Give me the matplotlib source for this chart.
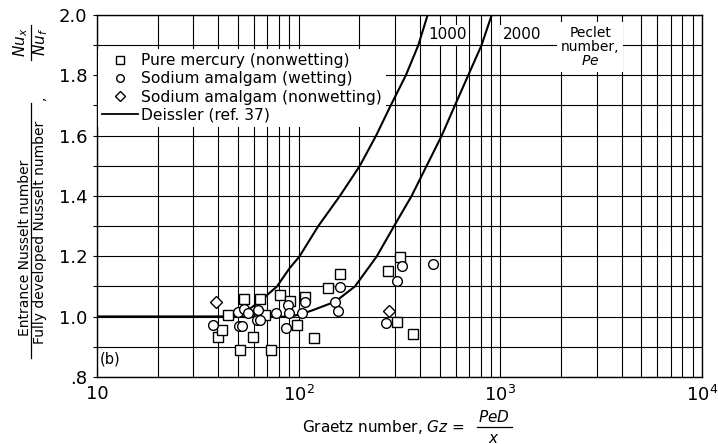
"""
Entrance Nusselt number ratio vs Graetz number (liquid metals),
with Deissler curves for Pe = 1000 and 2000.
"""

import numpy as np
import matplotlib.pyplot as plt
from matplotlib.lines import Line2D
from matplotlib.ticker import LogLocator, FixedLocator, MultipleLocator, NullFormatter


# =========================================================
# Data
# =========================================================

mercury_gz = [39.9, 41.7, 44.8, 51.2, 53.7, 59.3, 64.4, 68, 73, 80.6,
              90.5, 98, 107, 119, 139, 161, 276, 308, 318, 370]
mercury_nu = [0.934, 0.957, 1.006, 0.89, 1.057, 0.934, 1.057, 1.006, 0.89, 1.073,
              1.052, 0.971, 1.066, 0.928, 1.094, 1.141, 1.150, 0.981, 1.199, 0.944]

wet_gz = [37.7, 50.2, 53.7, 55.8, 50.5, 52.5, 62.5, 62, 64.5, 77.5,
          87, 89, 89.5, 104, 107, 151, 156, 160, 272, 306, 327, 465]
wet_nu = [0.973, 1.016, 1.025, 1.011, 0.968, 0.968, 1.022, 0.99, 0.99, 1.011,
          0.961, 1.039, 1.011, 1.011, 1.049, 1.05, 1.02, 1.099, 0.98, 1.117, 1.168, 1.176]

nonwet_gz = [38.7, 281]
nonwet_nu = [1.048, 1.019]

pe1000_gz = [10, 48, 52, 56, 64, 78, 90, 101, 125, 160, 201, 242, 286, 340, 392, 436]
pe1000_nu = [1.0, 1.0, 1.008, 1.022, 1.05, 1.10, 1.16, 1.2, 1.3, 1.4, 1.5, 1.6, 1.7, 1.8, 1.9, 2.0]

pe2000_gz = [10, 85, 96, 106, 118, 152, 190, 244, 297, 363, 431, 512, 595, 693, 807, 906]
pe2000_nu = [1.0, 1.0, 1.004, 1.011, 1.022, 1.05, 1.1, 1.2, 1.3, 1.4, 1.5, 1.6, 1.7, 1.8, 1.9, 2.0]

Y_TICKS = [0.8, 1.0, 1.2, 1.4, 1.6, 1.8, 2.0]
Y_LABELS = [".8", "1.0", "1.2", "1.4", "1.6", "1.8", "2.0"]
X_TICKS = [10, 100, 1000, 10000]
X_LABELS = ["10", "$10^2$", "$10^3$", "$10^4$"]


# =========================================================
# Figure
# =========================================================

W, H = 718, 444

fig = plt.figure(figsize=(W / 100, H / 100), dpi=100)
ax = fig.add_axes([97 / W, 1 - 377 / H, (702 - 97) / W, (377 - 15) / H])

ax.set_xscale("log")
ax.set_xlim(10, 1e4)
ax.set_ylim(0.8, 2.0)

ax.xaxis.set_major_locator(FixedLocator(X_TICKS))
ax.set_xticklabels(X_LABELS, fontsize=13)
ax.xaxis.set_minor_locator(LogLocator(base=10, subs=np.arange(2, 10)))
ax.xaxis.set_minor_formatter(NullFormatter())

ax.yaxis.set_major_locator(FixedLocator(Y_TICKS))
ax.set_yticklabels(Y_LABELS, fontsize=13)
ax.yaxis.set_minor_locator(MultipleLocator(0.1))

ax.grid(True, which="both", color="black", linewidth=0.8, zorder=0)
ax.tick_params(axis="x", which="both", length=0, pad=6)
ax.tick_params(axis="y", which="both", direction="out", length=3,
               width=0.8, pad=4)
for sp in ax.spines.values():
    sp.set_linewidth(1.0)


# Deissler curves
ax.plot(pe1000_gz, pe1000_nu, color="black", linewidth=1.5, zorder=3)
ax.plot(pe2000_gz, pe2000_nu, color="black", linewidth=1.5, zorder=3)

# data points
mk = dict(linestyle="none", mfc="white", mec="black", mew=1.0)
ax.plot(mercury_gz, mercury_nu, marker="s", markersize=7, zorder=4, **mk)
ax.plot(wet_gz, wet_nu, marker="o", markersize=7, zorder=4, **mk)
ax.plot(nonwet_gz, nonwet_nu, marker="D", markersize=6.5, zorder=4, **mk)


# legend
handles = [
    Line2D([], [], marker="s", markersize=5.5, **mk),
    Line2D([], [], marker="o", markersize=5.5, **mk),
    Line2D([], [], marker="D", markersize=5.5, **mk),
    Line2D([], [], color="black", linewidth=1.3),
]
labels = [
    "Pure mercury (nonwetting)",
    "Sodium amalgam (wetting)",
    "Sodium amalgam (nonwetting)",
    "Deissler (ref. 37)",
]
leg = ax.legend(handles, labels, loc="upper left",
                bbox_to_anchor=(0.002, 0.905), borderaxespad=0,
                borderpad=0.25, handlelength=2.3, handletextpad=0.2,
                labelspacing=0.2, fontsize=11.2, frameon=True,
                fancybox=False)
leg.get_frame().set_facecolor("white")
leg.get_frame().set_edgecolor("none")
leg.get_frame().set_alpha(1)
leg.set_zorder(2.5)


# annotations
box = dict(facecolor="white", edgecolor="none", pad=1.5)
ax.text(0.579, 0.945, "1000", transform=ax.transAxes, ha="center",
        va="center", fontsize=11, bbox=box, zorder=2.5)
ax.text(0.702, 0.945, "2000", transform=ax.transAxes, ha="center",
        va="center", fontsize=11, bbox=box, zorder=2.5)
ax.text(0.815, 0.912, "Peclet\nnumber,\n$Pe$", transform=ax.transAxes,
        ha="center", va="center", fontsize=10, linespacing=1.0,
        bbox=dict(facecolor="white", edgecolor="none", pad=3), zorder=2.5)
ax.text(0.0215, 0.05, "(b)", transform=ax.transAxes, ha="center",
        va="center", fontsize=10.5,
        bbox=dict(facecolor="white", edgecolor="none", pad=1), zorder=2.5)


# y label (stacked fractions)
fig.text(25 / W, 1 - 248 / H, "Entrance Nusselt number", rotation=90,
         ha="center", va="center", fontsize=10)
fig.text(40 / W, 1 - 232 / H, "Fully developed Nusselt number", rotation=90,
         ha="center", va="center", fontsize=10)
fig.add_artist(Line2D([31 / W, 31 / W], [1 - 103 / H, 1 - 358 / H],
                      transform=fig.transFigure, color="black", linewidth=0.9))
fig.text(40 / W, 1 - 98 / H, ",", rotation=90, ha="center", va="center",
         fontsize=10)
fig.text(21 / W, 1 - 42 / H, "$Nu_x$", rotation=90, ha="center",
         va="center", fontsize=11)
fig.text(41 / W, 1 - 42 / H, "$Nu_f$", rotation=90, ha="center",
         va="center", fontsize=11)
fig.add_artist(Line2D([31 / W, 31 / W], [1 - 25 / H, 1 - 60 / H],
                      transform=fig.transFigure, color="black", linewidth=0.9))


# x label (Gz = PeD / x)
fig.text(383 / W, 1 - 427 / H, "Graetz number, $Gz$ =", ha="center",
         va="center", fontsize=11)
fig.text(494 / W, 1 - 417 / H, "$PeD$", ha="center", va="center",
         fontsize=11)
fig.text(494 / W, 1 - 438 / H, "$x$", ha="center", va="center",
         fontsize=11)
fig.add_artist(Line2D([477 / W, 512 / W], [1 - 427 / H, 1 - 427 / H],
                      transform=fig.transFigure, color="black", linewidth=0.9))


fig.savefig("out.png", dpi=100)
